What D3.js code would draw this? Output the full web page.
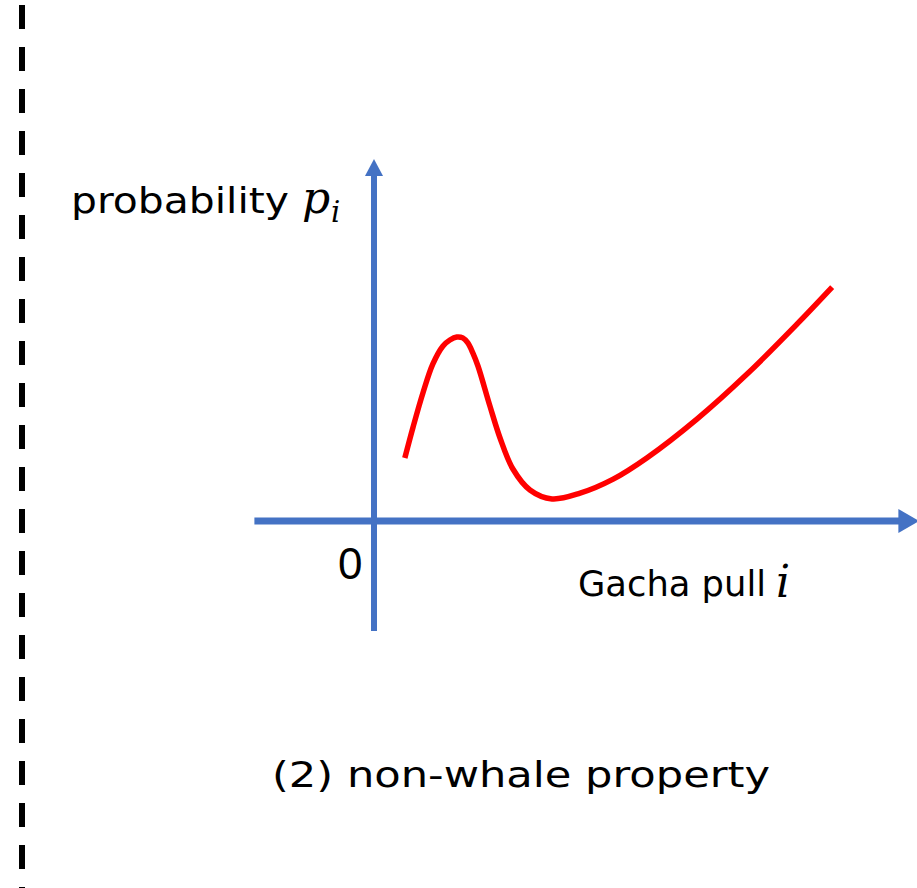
<!DOCTYPE html>
<html>
<head>
<meta charset="utf-8">
<script src="https://cdn.jsdelivr.net/npm/d3@7/dist/d3.min.js"></script>
<style>
  html, body { margin: 0; padding: 0; background: #fff; }
  svg { display: block; }
</style>
</head>
<body>
<svg id="chart" width="917" height="888"></svg>
<script>
// Gacha pull index i and the sketched probability p_i (non-whale property)
const pulls = [6.7, 8.5, 10.7, 12.8, 15.0, 16.5, 18.0, 19.3, 20.4, 21.5, 22.6, 25.2, 27.4, 30.2, 33.9, 38.7, 44.8, 52.0, 59.3, 70.2, 81.1, 92.0, 99.6];
const probs = [0.274, 0.409, 0.561, 0.683, 0.761, 0.787, 0.800, 0.796, 0.774, 0.730, 0.674, 0.500, 0.361, 0.226, 0.135, 0.096, 0.121, 0.182, 0.274, 0.443, 0.639, 0.857, 1.017];

// Axis extents (data units) and labels
const xAxisExtent = [-26, 114];   // shaft of the horizontal axis
const xArrowTip = 118.5;
const yAxisExtent = [-0.478, 1.5]; // shaft of the vertical axis
const yArrowTip = 1.574;
const originLabel = ["0"];
const title = "(2) non-whale property";

const svg = d3.select("#chart");
const W = 917, H = 888;

const x = d3.scaleLinear().domain([0, 100]).range([374, 834]);
const y = d3.scaleLinear().domain([0, 1]).range([521, 291]);

const blue = "#4472C4";

// dashed separator on the left edge
svg.append("line")
  .attr("x1", 22).attr("x2", 22)
  .attr("y1", 5).attr("y2", H)
  .attr("stroke", "#000")
  .attr("stroke-width", 6)
  .attr("stroke-dasharray", "24 18");

// horizontal axis with arrow head
svg.append("line")
  .attr("x1", x(xAxisExtent[0])).attr("x2", x(xAxisExtent[1]) + 1)
  .attr("y1", y(0)).attr("y2", y(0))
  .attr("stroke", blue).attr("stroke-width", 7);
svg.append("path")
  .attr("d", `M${x(xAxisExtent[1])},${y(0) - 12} L${x(xArrowTip)},${y(0)} L${x(xAxisExtent[1])},${y(0) + 12} Z`)
  .attr("fill", blue);

// vertical axis with arrow head
svg.append("line")
  .attr("x1", x(0)).attr("x2", x(0))
  .attr("y1", y(yAxisExtent[0])).attr("y2", y(yAxisExtent[1]) - 1)
  .attr("stroke", blue).attr("stroke-width", 6);
svg.append("path")
  .attr("d", `M${x(0) - 9},${y(yAxisExtent[1])} L${x(0)},${y(yArrowTip)} L${x(0) + 9},${y(yAxisExtent[1])} Z`)
  .attr("fill", blue);

// probability curve
const pts = pulls.map((d, k) => [d, probs[k]]);
const line = d3.line()
  .x(d => x(d[0]))
  .y(d => y(d[1]))
  .curve(d3.curveCatmullRom.alpha(0.5));
svg.append("path")
  .datum(pts)
  .attr("d", line)
  .attr("fill", "none")
  .attr("stroke", "#FF0000")
  .attr("stroke-width", 5.5)
  .attr("stroke-linejoin", "round");

// origin label
svg.append("text")
  .attr("x", 338).attr("y", 579)
  .attr("font-family", "'Liberation Sans', Arial, sans-serif")
  .attr("font-size", 44)
  .attr("fill", "#000")
  .text(originLabel[0]);

// y-axis label: probability p_i
const sansFont = "'DejaVu Sans', sans-serif";
const mathFont = "'DejaVu Serif', serif";
svg.append("text")
  .attr("x", 71).attr("y", 213)
  .attr("font-family", sansFont)
  .attr("font-size", 35)
  .attr("textLength", 218)
  .attr("lengthAdjust", "spacingAndGlyphs")
  .attr("fill", "#000")
  .text("probability");
svg.append("text")
  .attr("x", 302).attr("y", 213)
  .attr("font-family", mathFont)
  .attr("font-style", "italic")
  .attr("font-size", 44)
  .attr("fill", "#000")
  .text("p");
svg.append("text")
  .attr("x", 331).attr("y", 222)
  .attr("font-family", mathFont)
  .attr("font-style", "italic")
  .attr("font-size", 29)
  .attr("fill", "#000")
  .text("i");

// x-axis label: Gacha pull i
svg.append("text")
  .attr("x", 578).attr("y", 596)
  .attr("font-family", sansFont)
  .attr("font-size", 36)
  .attr("textLength", 188)
  .attr("lengthAdjust", "spacingAndGlyphs")
  .attr("fill", "#000")
  .text("Gacha pull");
svg.append("text")
  .attr("x", 776).attr("y", 597)
  .attr("font-family", mathFont)
  .attr("font-style", "italic")
  .attr("font-size", 44)
  .attr("fill", "#000")
  .text("i");

// caption
svg.append("text")
  .attr("x", 272).attr("y", 787)
  .attr("font-family", sansFont)
  .attr("font-size", 35)
  .attr("textLength", 498)
  .attr("lengthAdjust", "spacingAndGlyphs")
  .attr("fill", "#000")
  .text(title);
</script>
</body>
</html>
